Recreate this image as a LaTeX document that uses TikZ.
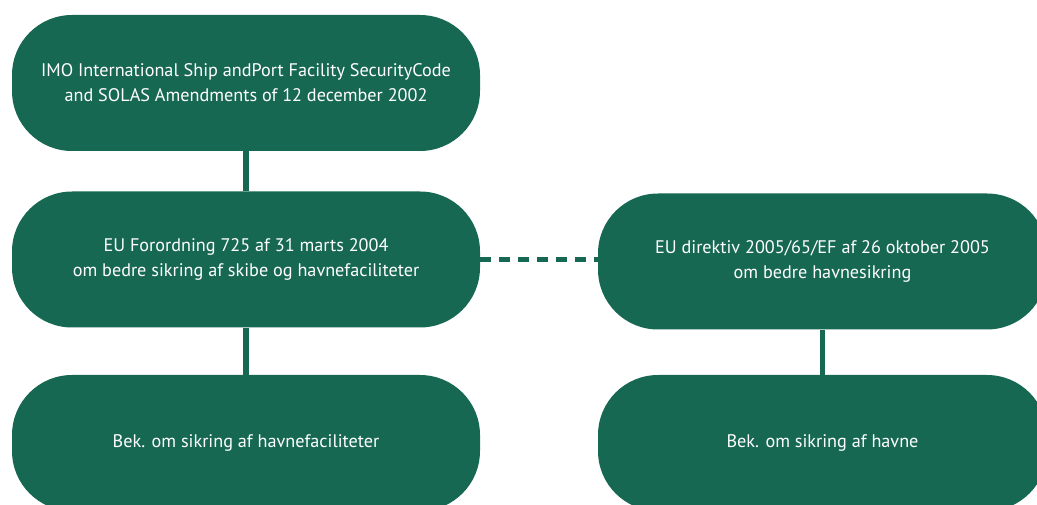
\documentclass[tikz,border=0pt]{standalone}
\usepackage{fontspec}
\setmainfont{PT Sans}
\usepackage{tikz}
\definecolor{portgreen}{RGB}{23,104,82}
\tikzset{
  lawbox/.style={fill=portgreen, rounded corners=60pt, minimum height=136pt,
    inner sep=0pt, align=center, text=white, font=\fontsize{18.2}{25}\selectfont},
  widebox/.style={lawbox, minimum width=468pt},
  narrowbox/.style={lawbox, minimum width=449pt},
  link/.style={portgreen, line width=5.5pt},
  dashlink/.style={link, dash pattern=on 11pt off 8pt}
}

\begin{document}
\begin{tikzpicture}[x=1pt,y=1pt]
\useasboundingbox (0,0) rectangle (1037,504);
\clip (0,0) rectangle (1037,504);
\node[widebox] (imo) at (246,421) {IMO International Ship andPort Facility SecurityCode\\and SOLAS Amendments of 12 december 2002};
\node[widebox] (forordning) at (246,244.5) {EU Forordning 725 af 31 marts 2004\\om bedre sikring af skibe og havnefaciliteter};
\node[narrowbox] (direktiv) at (822.5,242.5) {EU direktiv 2005/65/EF af 26 oktober 2005\\om bedre havnesikring};
\node[widebox] (bekfac) at (246,61) {Bek. om sikring af havnefaciliteter};
\node[narrowbox] (bekhavne) at (822.5,61) {Bek. om sikring af havne};
% forbindelser
\draw[link] (imo.south) -- (forordning.north);
\draw[link] (forordning.south) -- (bekfac.north);
\draw[link] (direktiv.south) -- (bekhavne.north);
\draw[dashlink] (forordning.east) -- (forordning.east -| direktiv.west);
\end{tikzpicture}
\end{document}
